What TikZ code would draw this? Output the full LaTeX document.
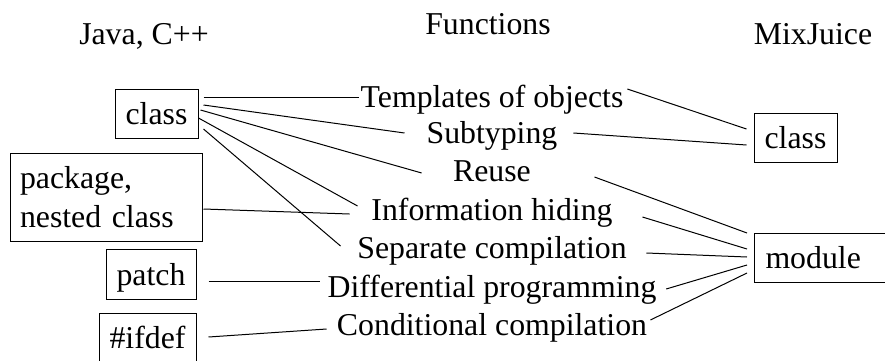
\documentclass[tikz,border=0pt]{standalone}
\usepackage{fontspec}
\setmainfont{Liberation Serif}
\usetikzlibrary{positioning,calc}

\begin{document}
\begin{tikzpicture}[x=0.5pt,y=-0.5pt,line width=0.5pt,
  every node/.style={font=\fontsize{15.9pt}{19.5pt}\selectfont},
  box/.style={rectangle,draw,inner sep=0pt,text height=11pt,text depth=0pt},
  func/.style={inner sep=0pt,anchor=base}]
\useasboundingbox (0,0) rectangle (885,360);

\node[anchor=base] (hjava) at (144,44) {Java, C++};
\node[anchor=base] (hfunc) at (488,34) {Functions};
\node[anchor=base] (hmix) at (813,44) {MixJuice};

\node[box,minimum width=41.5pt,minimum height=24.5pt] (jcls) at (156.5,113.5) {class};
\node[rectangle,draw,inner xsep=5pt,inner ysep=0pt,text width=86pt,align=left,minimum height=44pt] (jpkg) at (106,197) {package,\\nested class};
\node[box,minimum width=45pt,minimum height=25pt] (jpatch) at (151,274) {patch};
\node[box,minimum width=48.5pt,minimum height=24.5pt] (jifdef) at (147.5,337.5) {\#ifdef};

\node[func] (f1) at (492,107) {Templates of objects};
\node[func] (f2) at (492,143) {Subtyping};
\node[func] (f3) at (492,181) {Reuse};
\node[func] (f4) at (492,220) {Information hiding};
\node[func] (f5) at (492,258) {Separate compilation};
\node[func] (f6) at (492,297) {Differential programming};
\node[func] (f7) at (492,335) {Conditional compilation};

\node[box,minimum width=41.5pt,minimum height=24.5pt] (mcls) at (795.5,137.5) {class};
\node[box,anchor=west,inner xsep=5.5pt,text width=60pt,align=left,minimum height=24.5pt] (mmod) at (754,257.5) {module};

\draw ($(jcls.east)+(5,-16.5)$) -- ($(f1.base west)+(-1.5,-10)$);
\draw ($(jcls.east)+(5,-8.5)$) -- ($(f2.base west)+(-21.6,-10)$);
\draw ($(jcls.east)+(2,-3.5)$) -- ($(f3.base west)+(-31,-8)$);
\draw ($(jcls.east)+(0,4.5)$) -- ($(f4.base west)+(-13.4,-14)$);
\draw ($(jcls.east)+(5,15.5)$) -- ($(f5.base west)+(-16.3,-12)$);
\draw ($(jpkg.east)+(1,12)$) -- ($(f4.base west)+(-21.4,-6)$);
\draw ($(jpatch.east)+(12,7)$) -- ($(f6.base west)+(-7.3,-16)$);
\draw ($(jifdef.east)+(12,-0.5)$) -- ($(f7.base west)+(-9.9,-6)$);

\draw ($(f1.base east)+(3.5,-18)$) -- ($(mcls.west)+(-7,-8.5)$);
\draw ($(f2.base east)+(15.6,-10)$) -- ($(mcls.west)+(-7,7.5)$);
\draw ($(f3.base east)+(63.1,-4)$) -- ($(mmod.west)+(-7,-24.5)$);
\draw ($(f4.base east)+(29.4,-3)$) -- ($(mmod.west)+(-7,-8.5)$);
\draw ($(f5.base east)+(19.3,-5)$) -- ($(mmod.west)+(-7,-0.5)$);
\draw ($(f6.base east)+(9.3,-8)$) -- ($(mmod.west)+(-7,7.5)$);
\draw ($(f7.base east)+(2.9,-15)$) -- ($(mmod.west)+(-7,15.5)$);
\end{tikzpicture}
\end{document}
